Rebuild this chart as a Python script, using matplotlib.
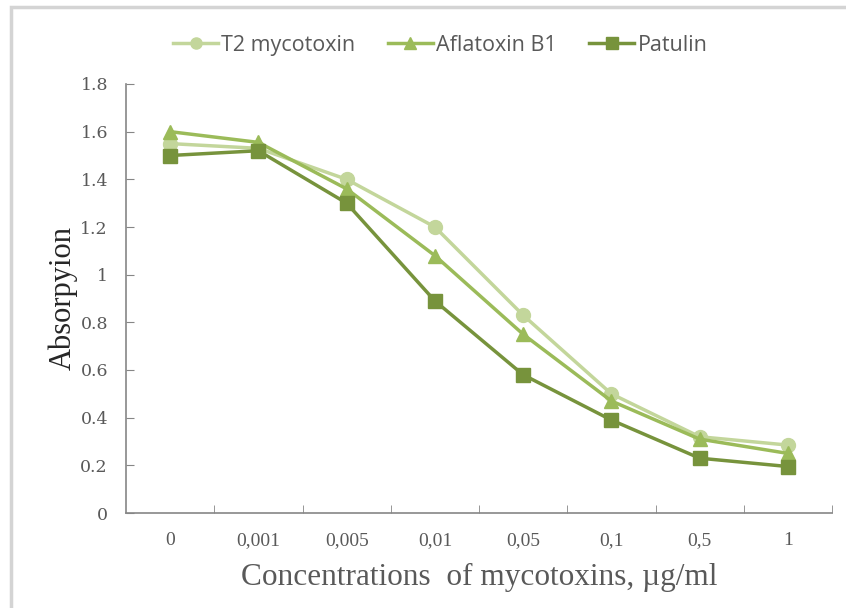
import matplotlib.pyplot as plt
import matplotlib.patches as mpatches
import numpy as np

concentrations = ['0', '0,001', '0,005', '0,01', '0,05', '0,1', '0,5', '1']
t2 = [1.55, 1.53, 1.40, 1.20, 0.83, 0.50, 0.32, 0.285]
aflatoxin = [1.60, 1.555, 1.36, 1.08, 0.75, 0.47, 0.31, 0.25]
patulin = [1.50, 1.52, 1.30, 0.89, 0.58, 0.39, 0.23, 0.195]
yticks = [0, 0.2, 0.4, 0.6, 0.8, 1, 1.2, 1.4, 1.6, 1.8]
ytick_labels = ['0', '0.2', '0.4', '0.6', '0.8', '1', '1.2', '1.4', '1.6', '1.8']

W, H = 846, 608
fig = plt.figure(figsize=(W / 100, H / 100), dpi=100)

# light grey frame around the chart (cut at right/bottom)
frame = mpatches.Rectangle((11 / W, -0.1), 1.2, (H - 7) / H + 0.1, transform=fig.transFigure,
                           fill=False, edgecolor='#d4d4d4', linewidth=2.5)
fig.patches.append(frame)

ax = fig.add_axes([126 / W, (H - 513) / H, (832 - 126) / W, (513 - 84) / H])

x = np.arange(len(concentrations))
ax.plot(x, t2, color='#c3d69b', marker='o', markersize=10, linewidth=2.5, label='T2 mycotoxin')
ax.plot(x, aflatoxin, color='#9bbb59', marker='^', markersize=10, linewidth=2.5, label='Aflatoxin B1')
ax.plot(x, patulin, color='#77933c', marker='s', markersize=10, linewidth=2.5, label='Patulin')

ax.set_xlim(-0.5, len(concentrations) - 0.5)
ax.set_ylim(0, 1.8)
ax.set_xticks(x)
ax.set_xticklabels(concentrations, fontfamily='Liberation Serif', fontsize=14, color='#595959')
ax.set_xticks(np.arange(len(concentrations)) + 0.5, minor=True)
ax.tick_params(axis='x', which='major', length=0, pad=14)
ax.tick_params(axis='x', which='minor', direction='in', length=6, color='#868686')
ax.set_yticks(yticks)
ax.set_yticklabels(ytick_labels, fontfamily='DejaVu Serif', fontsize=12.5, color='#595959')
ax.tick_params(axis='y', direction='in', length=6, color='#868686', pad=13)

for s in ['top', 'right']:
    ax.spines[s].set_visible(False)
for s in ['left', 'bottom']:
    ax.spines[s].set_color('#868686')
    ax.spines[s].set_linewidth(1.2)

ax.set_ylabel('Absorpyion', fontfamily='Liberation Serif', fontsize=22, color='#262626', labelpad=2)
ax.set_xlabel('Concentrations  of mycotoxins, \u00b5g/ml', fontfamily='Liberation Serif',
              fontsize=22.5, color='#595959', labelpad=10)

ax.legend(loc='upper center', bbox_to_anchor=(0.445, 1.16), ncol=3, frameon=False,
          prop={'family': 'Open Sans', 'size': 15.5}, labelcolor='#595959',
          handlelength=2.1, handletextpad=0.15, columnspacing=1.5, markerscale=0.8)

fig.savefig('out.png', dpi=100)
